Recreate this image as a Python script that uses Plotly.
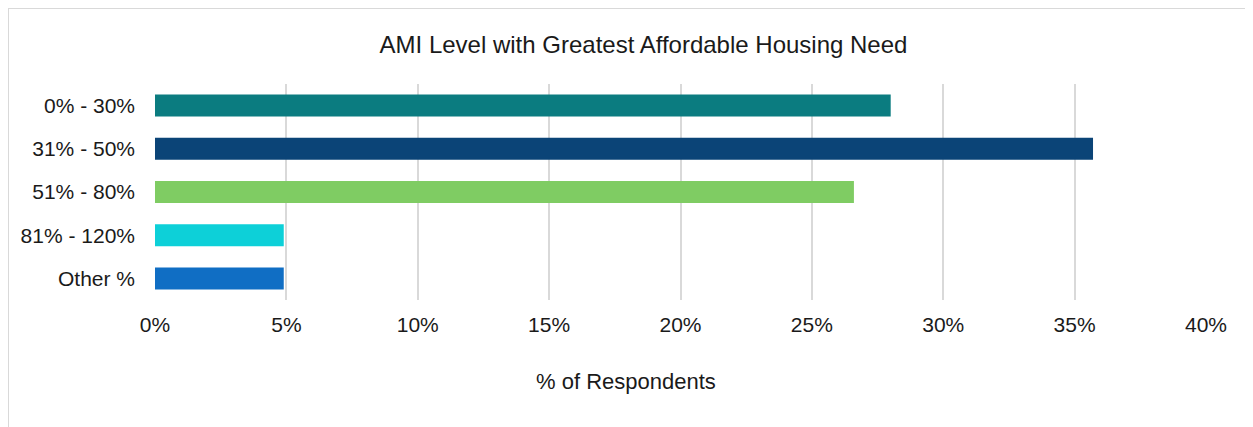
import plotly.graph_objects as go

categories = ["0% - 30%", "31% - 50%", "51% - 80%", "81% - 120%", "Other %"]
values = [28.0, 35.7, 26.6, 4.9, 4.9]
colors = ["#0B7C80", "#0B4477", "#7FCC63", "#0DD0D8", "#106EC4"]
tick_vals = [0, 5, 10, 15, 20, 25, 30, 35, 40]
tick_text = ["0%", "5%", "10%", "15%", "20%", "25%", "30%", "35%", "40%"]

font_family = "Liberation Sans, Arial, sans-serif"

fig = go.Figure(go.Bar(
    y=categories, x=values, orientation="h",
    marker=dict(color=colors, line=dict(width=0)),
    hoverinfo="skip",
))

W, H = 1253, 427
ml, mr, mt, mb = 147, 55, 76, 135
pw, ph = W - ml - mr, H - mt - mb

fig.update_layout(
    width=W, height=H,
    margin=dict(l=ml, r=mr, t=mt, b=mb),
    paper_bgcolor="white", plot_bgcolor="white",
    bargap=0.49,
    showlegend=False,
    font=dict(family=font_family, color="#1a1a1a", size=21),
    title=dict(text="AMI Level with Greatest Affordable Housing Need",
               x=(635.5 - ml) / pw, xref="paper", xanchor="center",
               y=1 - 37 / H, yanchor="middle",
               font=dict(size=24, color="#1a1a1a")),
    xaxis=dict(range=[0, 40], tickvals=tick_vals, ticktext=tick_text,
               showgrid=True, gridcolor="#d9d9d9", gridwidth=2,
               zeroline=False, showline=False, ticks="",
               tickfont=dict(size=21), ticklabelstandoff=10,
               fixedrange=True),
    yaxis=dict(autorange="reversed", showgrid=False, zeroline=False,
               showline=False, ticks="", ticklabelstandoff=19,
               tickfont=dict(size=21), fixedrange=True),
    annotations=[dict(text="% of Respondents", xref="paper", yref="paper",
                      x=(617.5 - ml) / pw, y=-(373 - (mt + ph)) / ph,
                      xanchor="center", yanchor="middle", showarrow=False,
                      font=dict(size=22, color="#1a1a1a"))],
    shapes=[dict(type="rect", xref="paper", yref="paper",
                 x0=-ml / pw, x1=1.3, y0=-1.0, y1=1 + mt / ph,
                 line=dict(color="#d9d9d9", width=2), fillcolor="rgba(0,0,0,0)",
                 layer="below")],
)

fig.write_html("out.html")
